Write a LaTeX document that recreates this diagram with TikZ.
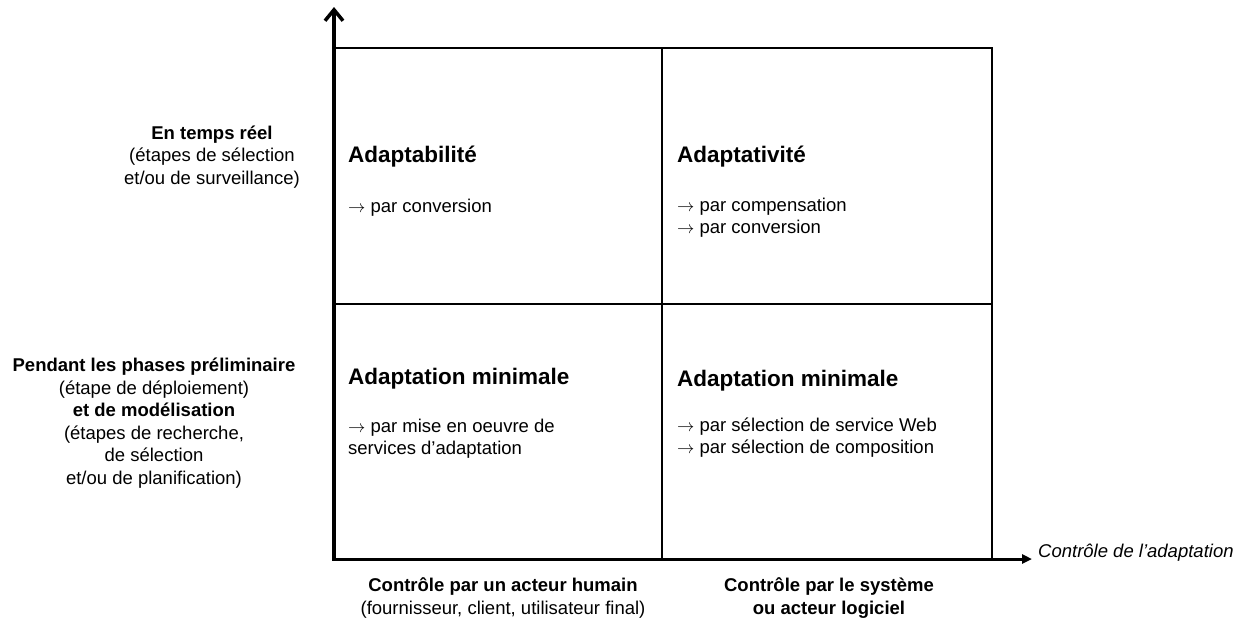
\documentclass[tikz,border=0pt]{standalone}
\usepackage{fontspec}
\setmainfont{Liberation Sans}
\usetikzlibrary{arrows.meta}
\newcommand{\toarr}{$\rightarrow$}
\tikzset{
  axis/.style={line width=3pt},
  cell/.style={line width=1.3pt},
  title/.style={anchor=west, inner sep=0pt, font=\fontsize{22.5}{26}\selectfont\bfseries},
  item/.style={anchor=west, inner sep=0pt, align=left, font=\fontsize{18.5}{22}\selectfont},
  side/.style={inner sep=0pt, align=center, font=\fontsize{18.5}{22.5}\selectfont},
}
\begin{document}
\begin{tikzpicture}[x=1pt, y=-1pt]
    \useasboundingbox (0,0) rectangle (1245,622);
    \coordinate (O) at (334,559);
    \coordinate (Ytop) at (334,7);
    \coordinate (Xend) at (1032,559);
    % grid
    \draw[cell] (334,48) rectangle (992,559);
    \draw[cell] (662,48) -- (662,559);
    \draw[cell] (334,304) -- (992,304);
    % axes
    \draw[line width=4pt, -{Straight Barb[length=11pt, width=18pt, line width=3.5pt]}] ([yshift=-1.5pt]O) -- (Ytop);
    \draw[axis, -{Triangle[length=10pt, width=9pt]}] ([xshift=-2pt]O) -- (Xend);
    \node[anchor=west, inner sep=0pt, font=\fontsize{18.5}{22}\selectfont\itshape] (xlab) at (1038,553) {Contrôle de l’adaptation};

    % cells
    \node[title] (c1) at (348,157) {Adaptabilité};
    \node[item] (c1a) at (348,208) {\toarr{} par conversion};
    \node[title] (c2) at (677,157) {Adaptativité};
    \node[item] (c2a) at (677,218) {\toarr{} par compensation\\\toarr{} par conversion};
    \node[title] (c3) at (348,379) {Adaptation minimale};
    \node[item] (c3a) at (348,439) {\toarr{} par mise en oeuvre de\\services d’adaptation};
    \node[title] (c4) at (677,381) {Adaptation minimale};
    \node[item] (c4a) at (677,438) {\toarr{} par sélection de service Web\\\toarr{} par sélection de composition};

    % left labels
    \node[side] (top) at (212,157) {\textbf{En temps réel}\\(étapes de sélection\\et/ou de surveillance)};
    \node[side] (low) at (154,423) {\textbf{Pendant les phases préliminaire}\\(étape de déploiement)\\\textbf{et de modélisation}\\(étapes de recherche,\\de sélection\\et/ou de planification)};

    % bottom labels
    \node[side] (human) at (503,598) {\textbf{Contrôle par un acteur humain}\\(fournisseur, client, utilisateur final)};
    \node[side] (system) at (829,598) {\textbf{Contrôle par le système}\\\textbf{ou acteur logiciel}};
\end{tikzpicture}
\end{document}
